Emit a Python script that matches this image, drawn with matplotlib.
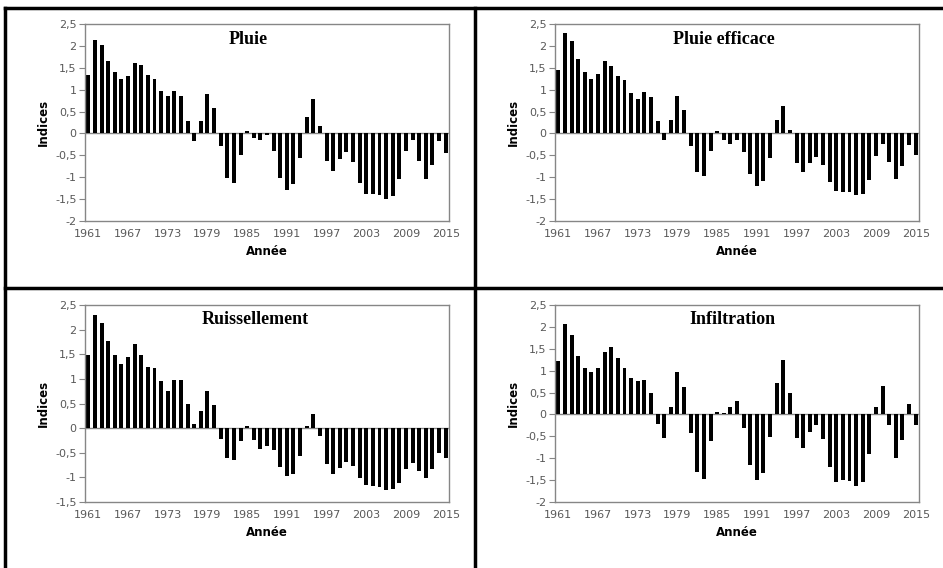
# Four bar charts of yearly indices (1961-2015) in a 2x2 grid with table borders.
import matplotlib.pyplot as plt
from matplotlib.ticker import FuncFormatter

# Years on the category axis.
years = list(range(1961, 2016))

# Index values, one per year.
pluie = [1.34, 2.14, 2.03, 1.65, 1.40, 1.24, 1.31, 1.60, 1.56, 1.33,
         1.24, 0.98, 0.85, 0.98, 0.86, 0.28, -0.17, 0.28, 0.89, 0.57,
         -0.29, -1.01, -1.14, -0.49, 0.06, -0.11, -0.15, -0.04, -0.40, -1.01,
         -1.29, -1.15, -0.56, 0.38, 0.78, 0.18, -0.64, -0.85, -0.59, -0.43,
         -0.65, -1.13, -1.39, -1.39, -1.41, -1.50, -1.44, -1.05, -0.40, -0.14,
         -0.63, -1.05, -0.71, -0.18, -0.44]

pluie_efficace = [1.45, 2.29, 2.11, 1.69, 1.40, 1.24, 1.35, 1.66, 1.55, 1.31,
                  1.21, 0.93, 0.79, 0.95, 0.84, 0.28, -0.14, 0.31, 0.86, 0.53,
                  -0.29, -0.88, -0.97, -0.41, 0.05, -0.16, -0.24, -0.15, -0.42, -0.93,
                  -1.20, -1.09, -0.57, 0.30, 0.63, 0.09, -0.68, -0.88, -0.67, -0.53,
                  -0.71, -1.10, -1.32, -1.34, -1.34, -1.41, -1.39, -1.07, -0.51, -0.25,
                  -0.66, -1.03, -0.75, -0.27, -0.50]

ruissellement = [1.49, 2.30, 2.14, 1.76, 1.49, 1.31, 1.45, 1.70, 1.49, 1.25,
                 1.23, 0.95, 0.76, 0.97, 0.97, 0.50, 0.09, 0.34, 0.76, 0.46,
                 -0.22, -0.61, -0.64, -0.27, 0.04, -0.25, -0.43, -0.36, -0.45, -0.78,
                 -0.98, -0.93, -0.57, 0.04, 0.28, -0.15, -0.72, -0.93, -0.81, -0.68,
                 -0.76, -1.01, -1.16, -1.18, -1.20, -1.25, -1.23, -1.11, -0.84, -0.70,
                 -0.87, -1.01, -0.84, -0.51, -0.61]

infiltration = [1.22, 2.07, 1.82, 1.34, 1.07, 0.98, 1.05, 1.42, 1.53, 1.29,
                1.05, 0.83, 0.76, 0.78, 0.49, -0.21, -0.53, 0.18, 0.98, 0.63,
                -0.43, -1.31, -1.47, -0.61, 0.06, 0.04, 0.18, 0.31, -0.30, -1.15,
                -1.50, -1.33, -0.52, 0.71, 1.25, 0.49, -0.54, -0.77, -0.40, -0.24,
                -0.57, -1.19, -1.55, -1.50, -1.52, -1.63, -1.55, -0.90, 0.18, 0.65,
                -0.24, -1.00, -0.59, 0.23, -0.24]

titles = ["Pluie", "Pluie efficace", "Ruissellement", "Infiltration"]
series = [pluie, pluie_efficace, ruissellement, infiltration]
y_ranges = [(-2, 2.5), (-2, 2.5), (-1.5, 2.5), (-2, 2.5)]

# Figure size in pixels, used to place things.
W, H = 943, 568
fig = plt.figure(figsize=(W / 100, H / 100), dpi=100)

# Plot area of each panel in pixels: left, top, right, bottom.
boxes = [(85, 24, 449, 221), (555, 24, 919, 221),
         (85, 305, 449, 502), (555, 305, 919, 502)]
# Centre x of each title in pixels.
title_x = [248, 724, 255, 732]

axis_grey = "#868686"
label_grey = "#595959"
comma = FuncFormatter(lambda v, pos: ("%g" % v).replace(".", ","))

for i in range(4):
    left, top, right, bottom = boxes[i]
    ax = fig.add_axes([left / W, 1 - bottom / H, (right - left) / W, (bottom - top) / H])
    x = list(range(len(years)))
    ax.bar(x, series[i], width=0.6, color="black")
    ax.axhline(0, color=axis_grey, linewidth=1, zorder=0)

    ax.set_xlim(-0.5, len(years) - 0.5)
    lo, hi = y_ranges[i]
    ax.set_ylim(lo, hi)
    ax.set_yticks([lo + 0.5 * k for k in range(int((hi - lo) / 0.5) + 1)])
    ax.yaxis.set_major_formatter(comma)
    ax.set_xticks(x[::6])
    ax.set_xticklabels(years[::6])

    ax.tick_params(axis="y", length=4, color=axis_grey, labelsize=8, labelcolor=label_grey, pad=2)
    ax.tick_params(axis="x", length=0, labelsize=8, labelcolor=label_grey, pad=6)
    for s in ax.spines.values():
        s.set_color(axis_grey)
        s.set_linewidth(1)

    ax.set_xlabel("Année", fontsize=8.5, fontweight="bold", labelpad=4)
    ax.set_ylabel("Indices", fontsize=8.5, fontweight="bold", labelpad=4)

    fig.text(title_x[i] / W, 1 - (top + 15) / H, titles[i], ha="center", va="center",
             fontsize=13, fontweight="bold", family="Liberation Serif")

# Black table borders around the panels.
border = dict(color="black", linewidth=2.5)
fig.add_artist(plt.Line2D([5 / W, 1], [1 - 8 / H, 1 - 8 / H], **border))
fig.add_artist(plt.Line2D([5 / W, 5 / W], [0, 1 - 8 / H], **border))
fig.add_artist(plt.Line2D([475 / W, 475 / W], [0, 1 - 8 / H], **border))
fig.add_artist(plt.Line2D([5 / W, 1], [1 - 288 / H, 1 - 288 / H], **border))

fig.savefig("out.png", dpi=100)
